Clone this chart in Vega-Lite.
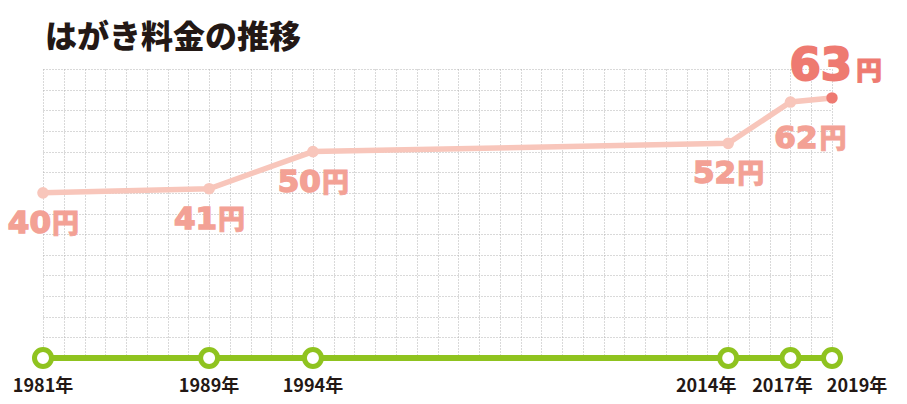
{
  "$schema": "https://vega.github.io/schema/vega-lite/v6.json",
  "width": 789,
  "height": 289,
  "autosize": "none",
  "padding": {"left": 43, "top": 69, "right": 75, "bottom": 46},
  "background": "white",
  "title": {
    "text": "はがき料金の推移",
    "anchor": "start",
    "frame": "group",
    "dx": 2,
    "offset": -11,
    "font": "Noto Sans CJK JP",
    "fontSize": 32,
    "fontWeight": 900,
    "color": "#231815"
  },
  "config": {
    "view": {"stroke": null},
    "axis": {
      "grid": true,
      "gridColor": "#b3b3b3",
      "gridDash": [1, 2],
      "gridWidth": 1,
      "labels": false,
      "ticks": false,
      "domain": false,
      "title": null
    }
  },
  "data": {
    "values": [
      {"year": 1981, "price": 40, "label": "1981年"},
      {"year": 1989, "price": 41, "label": "1989年"},
      {"year": 1994, "price": 50, "label": "1994年"},
      {"year": 2014, "price": 52, "label": "2014年"},
      {"year": 2017, "price": 62, "label": "2017年"},
      {"year": 2019, "price": 63, "label": "2019年"}
    ]
  },
  "encoding": {
    "x": {
      "field": "year",
      "type": "quantitative",
      "scale": {"domain": [1981, 2019], "nice": false, "zero": false},
      "axis": {"values": [1981,1982,1983,1984,1985,1986,1987,1988,1989,1990,1991,1992,1993,1994,1995,1996,1997,1998,1999,2000,2001,2002,2003,2004,2005,2006,2007,2008,2009,2010,2011,2012,2013,2014,2015,2016,2017,2018,2019]}
    },
    "y": {
      "field": "price",
      "type": "quantitative",
      "scale": {"domain": [0, 70], "nice": false},
      "axis": {"values": [0,5,10,15,20,25,30,35,40,45,50,55,60,65,70]}
    }
  },
  "layer": [
    {
      "mark": {"type": "line", "color": "#8fc31f", "strokeWidth": 6},
      "encoding": {"y": {"datum": 0, "type": "quantitative"}}
    },
    {
      "mark": {"type": "point", "shape": "circle", "filled": false, "fill": "white", "fillOpacity": 1, "stroke": "#8fc31f", "strokeWidth": 5, "size": 290, "opacity": 1},
      "encoding": {"y": {"datum": 0, "type": "quantitative"}}
    },
    {
      "mark": {"type": "line", "color": "#f8c6bb", "strokeWidth": 5.5}
    },
    {
      "transform": [{"filter": "datum.year < 2019"}],
      "mark": {"type": "point", "shape": "circle", "filled": true, "color": "#f8c6bb", "size": 135, "opacity": 1}
    },
    {
      "transform": [{"filter": "datum.year == 2019"}],
      "mark": {"type": "point", "shape": "circle", "filled": true, "color": "#ee7a71", "size": 130, "opacity": 1}
    },
    {
      "transform": [{"filter": "datum.year <= 2014"}],
      "mark": {"type": "text", "align": "right", "baseline": "alphabetic", "dx": 8, "dy": 40, "font": "DejaVu Sans", "fontSize": 31, "fontWeight": "bold", "color": "#f3a195", "stroke": "#f3a195", "strokeWidth": 1.5},
      "encoding": {"text": {"field": "price", "type": "quantitative"}}
    },
    {
      "transform": [{"filter": "datum.year <= 2014"}],
      "mark": {"type": "text", "align": "left", "baseline": "alphabetic", "dx": 9, "dy": 40, "font": "Noto Sans CJK JP", "fontSize": 27, "fontWeight": 900, "color": "#f3a195", "stroke": "#f3a195", "strokeWidth": 0.8},
      "encoding": {"text": {"value": "円"}}
    },
    {
      "transform": [{"filter": "datum.year == 2017"}],
      "mark": {"type": "text", "align": "right", "baseline": "alphabetic", "dx": 27, "dy": 46, "font": "DejaVu Sans", "fontSize": 31, "fontWeight": "bold", "color": "#f3a195", "stroke": "#f3a195", "strokeWidth": 1.5},
      "encoding": {"text": {"field": "price", "type": "quantitative"}}
    },
    {
      "transform": [{"filter": "datum.year == 2017"}],
      "mark": {"type": "text", "align": "left", "baseline": "alphabetic", "dx": 29, "dy": 46, "font": "Noto Sans CJK JP", "fontSize": 27, "fontWeight": 900, "color": "#f3a195", "stroke": "#f3a195", "strokeWidth": 0.8},
      "encoding": {"text": {"value": "円"}}
    },
    {
      "transform": [{"filter": "datum.year == 2019"}],
      "mark": {"type": "text", "align": "right", "baseline": "alphabetic", "dx": 20, "dy": -18, "font": "DejaVu Sans", "fontSize": 45, "fontWeight": "bold", "color": "#ee7a71", "stroke": "#ee7a71", "strokeWidth": 2},
      "encoding": {"text": {"field": "price", "type": "quantitative"}}
    },
    {
      "transform": [{"filter": "datum.year == 2019"}],
      "mark": {"type": "text", "align": "left", "baseline": "alphabetic", "dx": 24, "dy": -18, "font": "Noto Sans CJK JP", "fontSize": 26, "fontWeight": 900, "color": "#ee7a71", "stroke": "#ee7a71", "strokeWidth": 0.8},
      "encoding": {"text": {"value": "円"}}
    },
    {
      "transform": [{"filter": "datum.year < 2014"}],
      "mark": {"type": "text", "align": "center", "baseline": "alphabetic", "dy": 34, "font": "Noto Sans CJK JP", "fontSize": 18, "fontWeight": "bold", "color": "#231815"},
      "encoding": {"y": {"datum": 0, "type": "quantitative"}, "text": {"field": "label", "type": "nominal"}}
    },
    {
      "transform": [{"filter": "datum.year == 2014"}],
      "mark": {"type": "text", "align": "center", "baseline": "alphabetic", "dx": -22, "dy": 34, "font": "Noto Sans CJK JP", "fontSize": 18, "fontWeight": "bold", "color": "#231815"},
      "encoding": {"y": {"datum": 0, "type": "quantitative"}, "text": {"field": "label", "type": "nominal"}}
    },
    {
      "transform": [{"filter": "datum.year == 2017"}],
      "mark": {"type": "text", "align": "center", "baseline": "alphabetic", "dx": -8, "dy": 34, "font": "Noto Sans CJK JP", "fontSize": 18, "fontWeight": "bold", "color": "#231815"},
      "encoding": {"y": {"datum": 0, "type": "quantitative"}, "text": {"field": "label", "type": "nominal"}}
    },
    {
      "transform": [{"filter": "datum.year == 2019"}],
      "mark": {"type": "text", "align": "center", "baseline": "alphabetic", "dx": 25, "dy": 34, "font": "Noto Sans CJK JP", "fontSize": 18, "fontWeight": "bold", "color": "#231815"},
      "encoding": {"y": {"datum": 0, "type": "quantitative"}, "text": {"field": "label", "type": "nominal"}}
    }
  ]
}
